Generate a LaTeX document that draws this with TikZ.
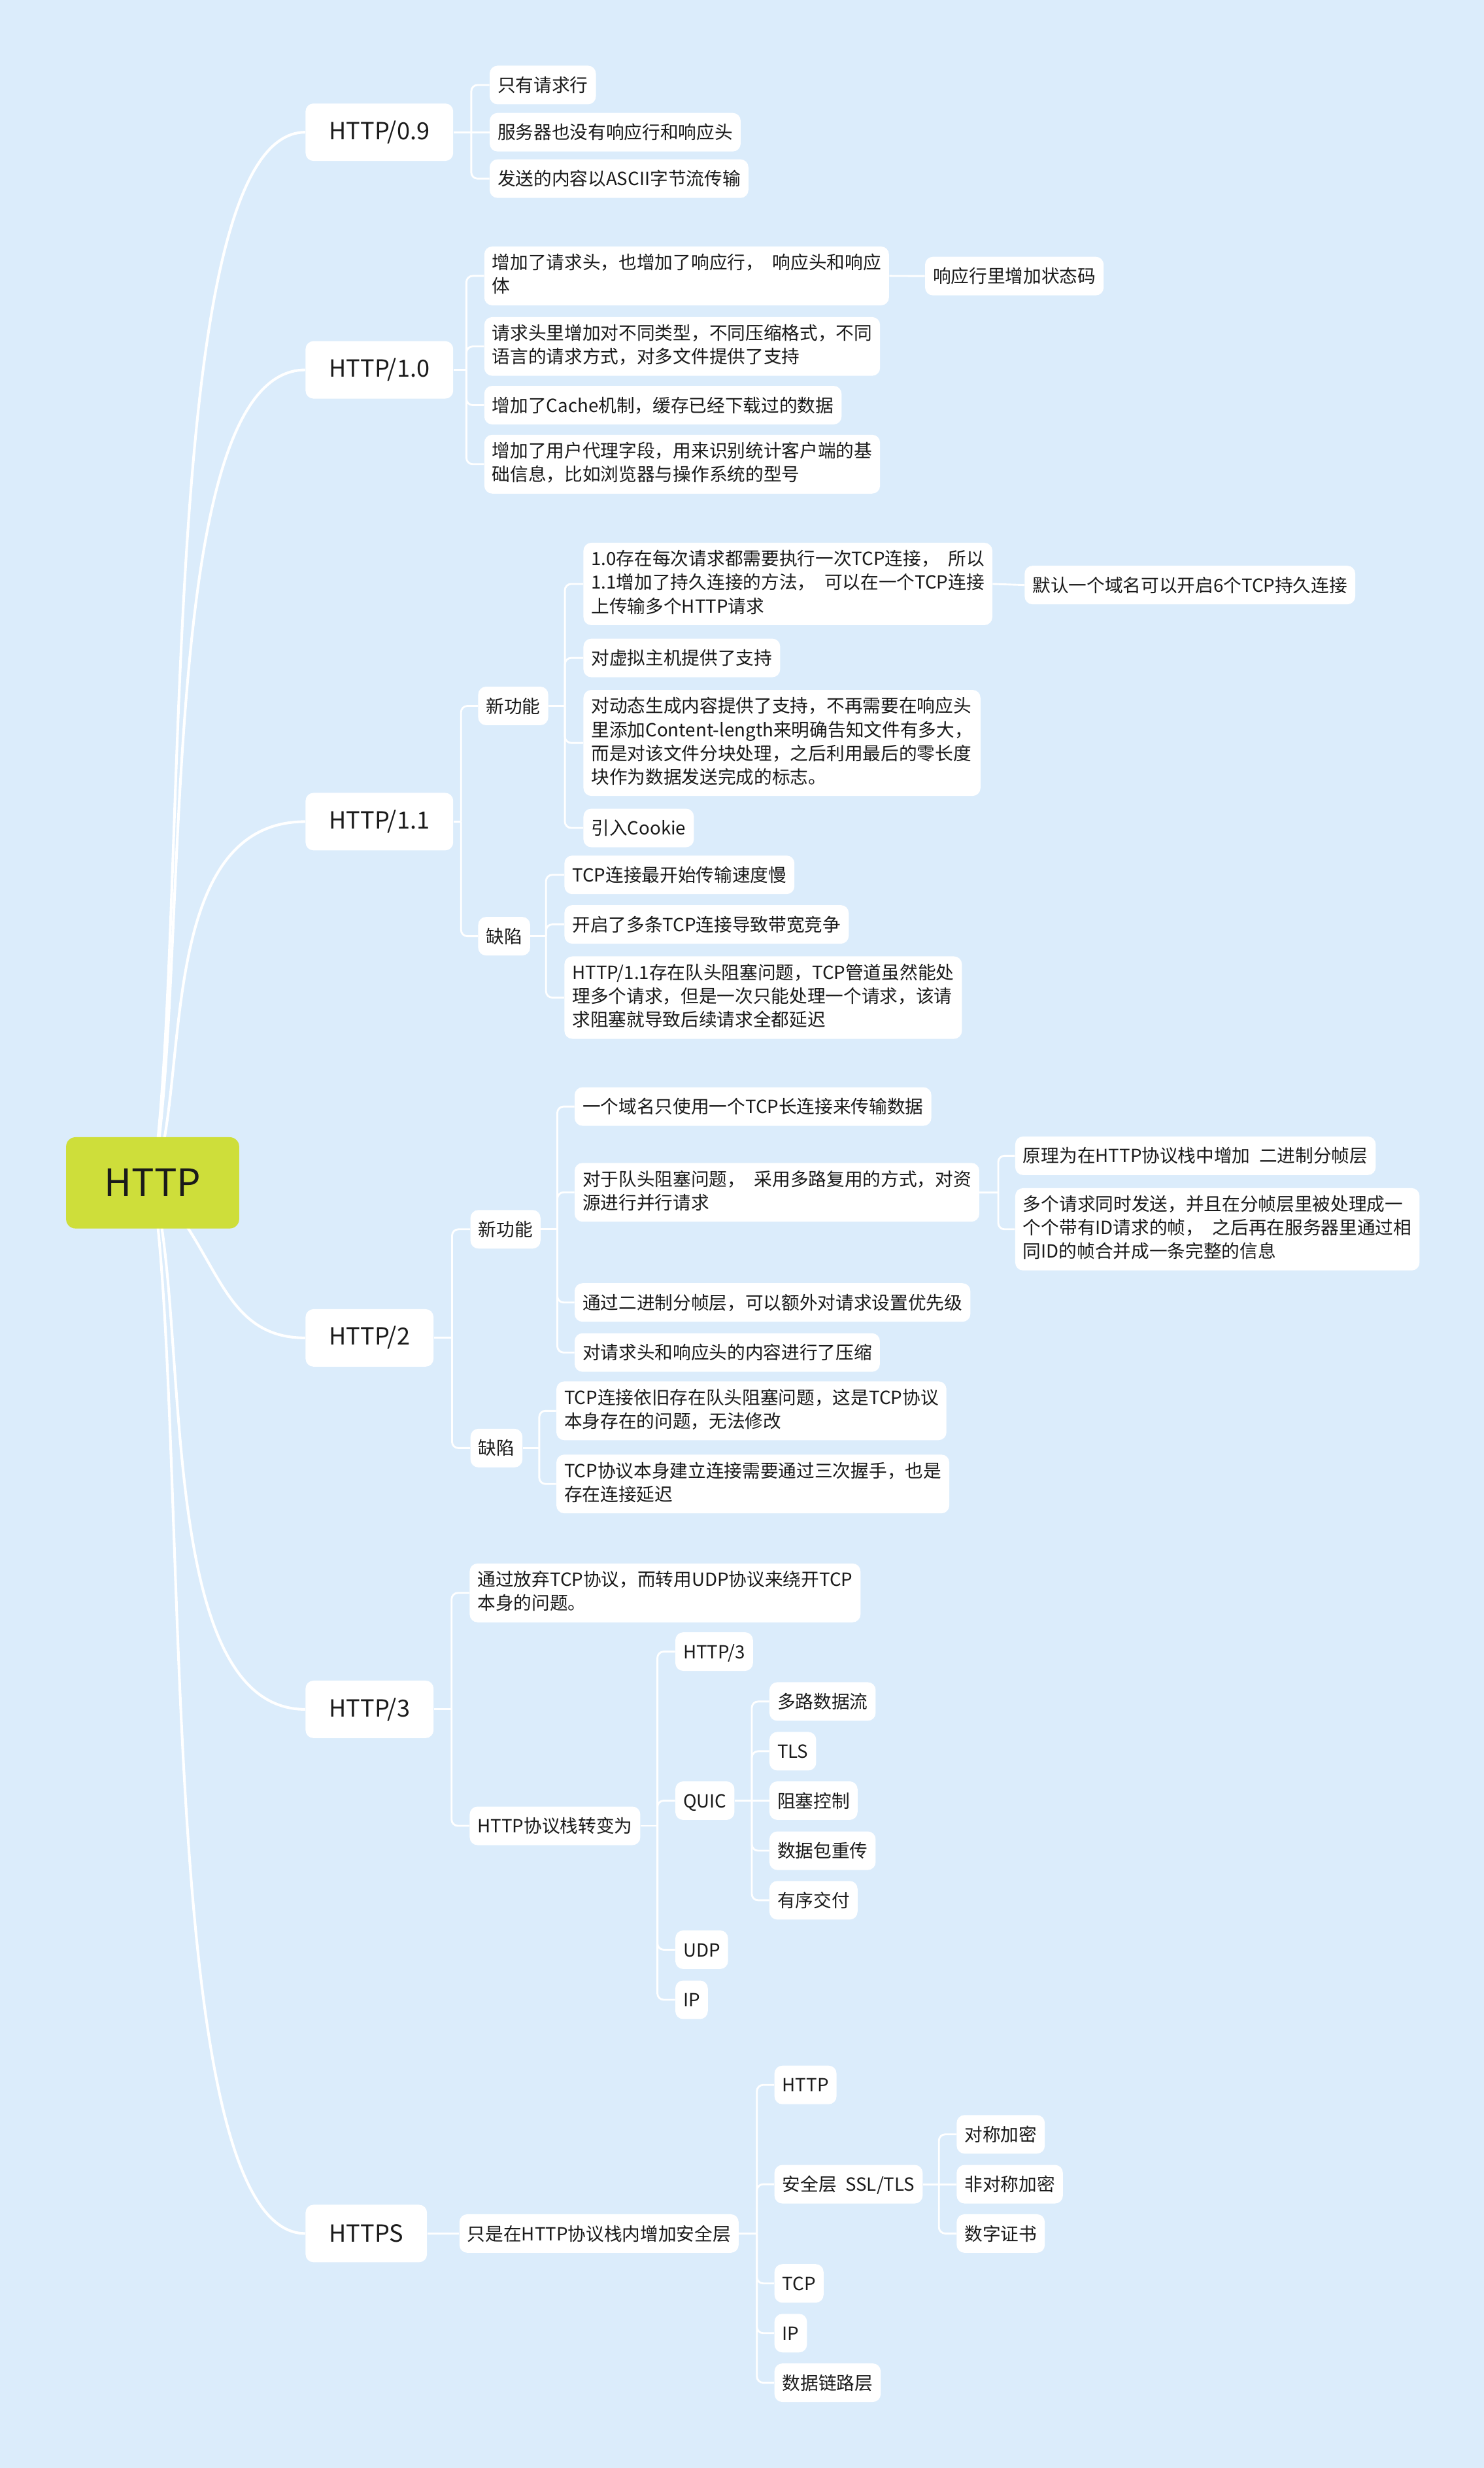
\documentclass[tikz,border=0pt]{standalone}
\usepackage{fontspec}
\setmainfont{Noto Sans CJK SC}[WordSpace=2.2]
\usetikzlibrary{calc}
\definecolor{mapbg}{RGB}{219,236,251}
\definecolor{rootgreen}{RGB}{206,222,58}
\definecolor{inktext}{RGB}{26,26,26}
\newcommand{\mmstrut}{\rule[-3.1pt]{0pt}{15pt}}

\begin{document}
\begin{tikzpicture}[x = 1pt, y = -1pt,
                    root_topic/.style = {fill = rootgreen, rounded corners = 6pt, minimum width = 110pt,
                                         minimum height = 58pt, text = inktext, font = \fontsize{24}{28}\selectfont},
                    main_topic/.style = {fill = white, rounded corners = 5pt, minimum height = 36.5pt, inner xsep = 15pt,
                                         anchor = west, text = inktext, font = \fontsize{15}{18}\selectfont},
                    sub_topic/.style = {fill = white, rounded corners = 5pt, inner xsep = 5pt, inner ysep = 4.75pt,
                                        anchor = west, align = left, text = inktext, font = \fontsize{11.5}{15}\selectfont,
                                        execute at begin node = \mmstrut, execute at end node = \mmstrut},
                    trunk/.style = {draw = white, line width = 1.7pt},
                    branch/.style = {draw = white, line width = 1.2pt, rounded corners = 4pt}]
    \pgfdeclarelayer{bg}    % connectors
    \pgfdeclarelayer{bbg}    % page colour
    \pgfsetlayers{bbg,bg,main}
    \useasboundingbox (0,0) rectangle (943,1568);
    \begin{pgfonlayer}{bbg}
        \fill[mapbg] (0,0) rectangle (943,1568);
    \end{pgfonlayer}
    %root and main topics
    \node[root_topic] (root) at (97,751.5) {HTTP};
    \node[main_topic] (h09) at (194,84) {HTTP/0.9};
    \node[main_topic] (h10) at (194,235) {HTTP/1.0};
    \node[main_topic] (h11) at (194,522) {HTTP/1.1};
    \node[main_topic] (h2) at (194,850) {HTTP/2};
    \node[main_topic] (h3) at (194,1086) {HTTP/3};
    \node[main_topic] (hs) at (194,1419) {HTTPS};
    %HTTP/0.9
    \node[sub_topic] (reqline) at (311,54) {只有请求行};
    \node[sub_topic] (nohead) at (311,84) {服务器也没有响应行和响应头};
    \node[sub_topic] (ascii) at (311,113.5) {发送的内容以ASCII字节流传输};
    %HTTP/1.0
    \node[sub_topic] (headers) at (307.6,175.3) {增加了请求头，也增加了响应行， 响应头和响应\\体};
    \node[sub_topic] (status) at (587.7,175.4) {响应行里增加状态码};
    \node[sub_topic] (formats) at (307.6,220.1) {请求头里增加对不同类型，不同压缩格式，不同\\语言的请求方式，对多文件提供了支持};
    \node[sub_topic] (cache) at (307.6,257.4) {增加了Cache机制，缓存已经下载过的数据};
    \node[sub_topic] (agent) at (307.6,294.9) {增加了用户代理字段，用来识别统计客户端的基\\础信息，比如浏览器与操作系统的型号};
    %HTTP/1.1
    \node[sub_topic] (new11) at (303.7,448.5) {新功能};
    \node[sub_topic] (keepalive) at (370.6,371) {1.0存在每次请求都需要执行一次TCP连接， 所以\\1.1增加了持久连接的方法， 可以在一个TCP连接\\上传输多个HTTP请求};
    \node[sub_topic] (sixconn) at (651,371.7) {默认一个域名可以开启6个TCP持久连接};
    \node[sub_topic] (vhost) at (370.6,418) {对虚拟主机提供了支持};
    \node[sub_topic] (chunked) at (370.6,472) {对动态生成内容提供了支持，不再需要在响应头\\里添加Content-length来明确告知文件有多大，\\而是对该文件分块处理，之后利用最后的零长度\\块作为数据发送完成的标志。};
    \node[sub_topic] (cookie) at (370.6,526) {引入Cookie};
    \node[sub_topic] (flaw11) at (303.7,594.8) {缺陷};
    \node[sub_topic] (slowstart) at (358.5,555.8) {TCP连接最开始传输速度慢};
    \node[sub_topic] (bandwidth) at (358.5,587.3) {开启了多条TCP连接导致带宽竞争};
    \node[sub_topic] (hol11) at (358.5,633.8) {HTTP/1.1存在队头阻塞问题，TCP管道虽然能处\\理多个请求，但是一次只能处理一个请求，该请\\求阻塞就导致后续请求全都延迟};
    %HTTP/2
    \node[sub_topic] (new2) at (298.8,781) {新功能};
    \node[sub_topic] (onetcp) at (365,703) {一个域名只使用一个TCP长连接来传输数据};
    \node[sub_topic] (mux) at (365,757.5) {对于队头阻塞问题， 采用多路复用的方式，对资\\源进行并行请求};
    \node[sub_topic] (framing) at (645,734.3) {原理为在HTTP协议栈中增加 二进制分帧层};
    \node[sub_topic] (frames) at (645,781) {多个请求同时发送，并且在分帧层里被处理成一\\个个带有ID请求的帧， 之后再在服务器里通过相\\同ID的帧合并成一条完整的信息};
    \node[sub_topic] (priority) at (365,827.5) {通过二进制分帧层，可以额外对请求设置优先级};
    \node[sub_topic] (hpack) at (365,859.3) {对请求头和响应头的内容进行了压缩};
    \node[sub_topic] (flaw2) at (298.8,920) {缺陷};
    \node[sub_topic] (tcphol) at (353.4,896.3) {TCP连接依旧存在队头阻塞问题，这是TCP协议\\本身存在的问题，无法修改};
    \node[sub_topic] (handshake) at (353.4,942.8) {TCP协议本身建立连接需要通过三次握手，也是\\存在连接延迟};
    %HTTP/3
    \node[sub_topic] (udpidea) at (298.3,1012) {通过放弃TCP协议，而转用UDP协议来绕开TCP\\本身的问题。};
    \node[sub_topic] (stack3) at (298.3,1160) {HTTP协议栈转变为};
    \node[sub_topic] (app3) at (429,1049.3) {HTTP/3};
    \node[sub_topic] (quic) at (429,1144) {QUIC};
    \node[sub_topic] (udp) at (429,1238.7) {UDP};
    \node[sub_topic] (ip3) at (429,1270.5) {IP};
    \foreach \Name/\Ycoor/\Txt in {streams/1081/多路数据流, tls3/1112.6/TLS, congestion/1144/阻塞控制,
                                   resend/1175.8/数据包重传, ordered/1207.3/有序交付}
        \node[sub_topic] (\Name) at (488.8,\Ycoor) {\Txt};
    %HTTPS
    \node[sub_topic] (secure) at (291.8,1419) {只是在HTTP协议栈内增加安全层};
    \node[sub_topic] (apps) at (492,1324.6) {HTTP};
    \node[sub_topic] (ssl) at (492,1387.7) {安全层 SSL/TLS};
    \node[sub_topic] (tcps) at (492,1450.7) {TCP};
    \node[sub_topic] (ips) at (492,1482.3) {IP};
    \node[sub_topic] (linklayer) at (492,1513.8) {数据链路层};
    \node[sub_topic] (sym) at (607.8,1356) {对称加密};
    \node[sub_topic] (asym) at (607.8,1387.7) {非对称加密};
    \node[sub_topic] (cert) at (607.8,1419) {数字证书};
    %bus points
    \coordinate (h09bus) at (299.5,84);
    \coordinate (h10bus) at (296.4,235);
    \coordinate (h11bus) at (293,522);
    \coordinate (new11bus) at (359,448.5);
    \coordinate (flaw11bus) at (347,594.8);
    \coordinate (h2bus) at (287.3,850);
    \coordinate (new2bus) at (354.2,781);
    \coordinate (muxbus) at (634.4,757.5);
    \coordinate (flaw2bus) at (342.7,920);
    \coordinate (h3bus) at (287,1086);
    \coordinate (stack3bus) at (417.8,1160);
    \coordinate (quicbus) at (477.8,1144);
    \coordinate (securebus) at (481,1419);
    \coordinate (sslbus) at (596.7,1387.7);
    \begin{pgfonlayer}{bg}
        %curves from the root
        \foreach \Topic/\Frac/\Shift in {h09/.25/0, h10/.25/0, h11/.25/0, h2/.44/43, h3/.25/0, hs/.25/0}
            \draw[trunk] (root.center) .. controls ($(root.center)!\Frac!(\Topic.west)$)
                and ($(root.center |- \Topic.west)+(\Shift,0)$) .. (\Topic.west);
        %HTTP/0.9
        \draw[branch] (h09.east) -- (nohead.west);
        \foreach \Leaf in {reqline, ascii}
            \draw[branch] (h09bus) |- (\Leaf.west);
        %HTTP/1.0
        \draw[branch] (h10.east) -- (h10bus);
        \foreach \Leaf in {headers, formats, cache, agent}
            \draw[branch] (h10bus) |- (\Leaf.west);
        \draw[branch] (headers.east) -- (status.west);
        %HTTP/1.1
        \draw[branch] (h11.east) -- (h11bus);
        \foreach \Leaf in {new11, flaw11}
            \draw[branch] (h11bus) |- (\Leaf.west);
        \draw[branch] (new11.east) -- (new11bus);
        \foreach \Leaf in {keepalive, vhost, chunked, cookie}
            \draw[branch] (new11bus) |- (\Leaf.west);
        \draw[branch] (keepalive.east) -- (sixconn.west);
        \draw[branch] (flaw11.east) -- (flaw11bus);
        \foreach \Leaf in {slowstart, bandwidth, hol11}
            \draw[branch] (flaw11bus) |- (\Leaf.west);
        %HTTP/2
        \draw[branch] (h2.east) -- (h2bus);
        \foreach \Leaf in {new2, flaw2}
            \draw[branch] (h2bus) |- (\Leaf.west);
        \draw[branch] (new2.east) -- (new2bus);
        \foreach \Leaf in {onetcp, mux, priority, hpack}
            \draw[branch] (new2bus) |- (\Leaf.west);
        \draw[branch] (mux.east) -- (muxbus);
        \foreach \Leaf in {framing, frames}
            \draw[branch] (muxbus) |- (\Leaf.west);
        \draw[branch] (flaw2.east) -- (flaw2bus);
        \foreach \Leaf in {tcphol, handshake}
            \draw[branch] (flaw2bus) |- (\Leaf.west);
        %HTTP/3
        \draw[branch] (h3.east) -- (h3bus);
        \foreach \Leaf in {udpidea, stack3}
            \draw[branch] (h3bus) |- (\Leaf.west);
        \draw[branch] (stack3.east) -- (stack3bus);
        \foreach \Leaf in {app3, quic, udp, ip3}
            \draw[branch] (stack3bus) |- (\Leaf.west);
        \draw[branch] (quic.east) -- (congestion.west);
        \foreach \Leaf in {streams, tls3, resend, ordered}
            \draw[branch] (quicbus) |- (\Leaf.west);
        %HTTPS
        \draw[branch] (hs.east) -- (secure.west);
        \draw[branch] (secure.east) -- (securebus);
        \foreach \Leaf in {apps, ssl, tcps, ips, linklayer}
            \draw[branch] (securebus) |- (\Leaf.west);
        \draw[branch] (ssl.east) -- (asym.west);
        \foreach \Leaf in {sym, cert}
            \draw[branch] (sslbus) |- (\Leaf.west);
    \end{pgfonlayer}
\end{tikzpicture}
\end{document}
